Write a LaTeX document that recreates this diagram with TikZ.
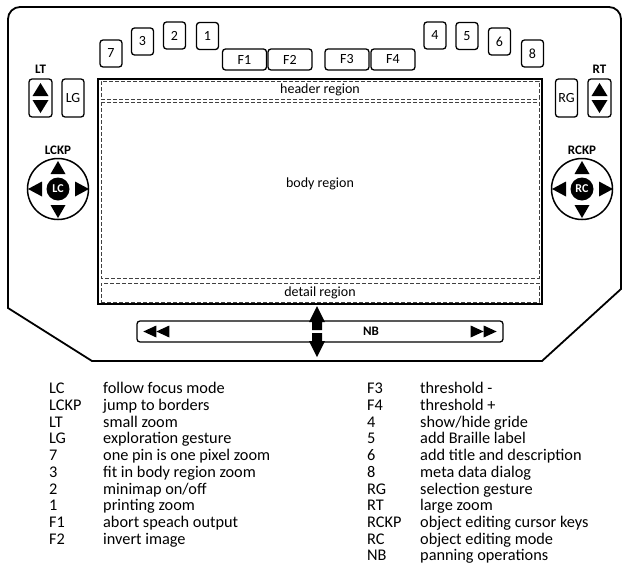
\documentclass[tikz,border=0pt]{standalone}
\usepackage{fontspec}
\setmainfont{Carlito}
\usetikzlibrary{positioning,calc}

\begin{document}
\begin{tikzpicture}[
  x=1pt,y=-1pt,
  font=\fontsize{14}{14}\selectfont,
  key/.style={rectangle,draw,line width=1.3pt,rounded corners=3pt,minimum width=22pt,minimum height=27pt,inner sep=0pt},
  fkey/.style={key,minimum width=44pt,minimum height=21pt},
  sidekey/.style={key,minimum width=23pt,minimum height=38pt},
  pad/.style={circle,draw,line width=1.5pt,minimum size=61pt,inner sep=0pt},
  padcenter/.style={circle,fill=black,text=white,minimum size=23pt,inner sep=0pt,font=\bfseries\fontsize{12}{12}\selectfont},
  region/.style={draw=black!75,dash pattern=on 4pt off 2pt,line width=0.9pt,inner sep=0pt},
  lbl/.style={font=\bfseries\fontsize{13}{13}\selectfont},
  legend/.style={anchor=north west,inner sep=0pt,font=\fontsize{16.3}{16.7}\selectfont},
]
\useasboundingbox (0,0) rectangle (625,568);

% Device outline
\draw[line width=1.8pt] (8,308) -- (8,19) arc[start angle=180,end angle=270,radius=12]
  -- (609,7) arc[start angle=270,end angle=360,radius=12]
  -- (621,289) -- (542,361) -- (92,361) -- cycle;

% Screen and regions
\draw[line width=1.8pt] (98,79) rectangle (542,304);
\node[region,minimum width=438pt,minimum height=18pt] (header) at (320,90) {header region};
\draw[region] (101,102) rectangle (539,278);
\node (body) at (320,184) {body region};
\node[region,minimum width=438pt,minimum height=19pt] (detail) at (320,292.5) {detail region};

% Top keys
\node[key] (k7) at (111,53.5) {7};
\node[key] (k3) at (142.5,41.5) {3};
\node[key] (k2) at (174.5,35.5) {2};
\node[key] (k1) at (207.5,36) {1};
\node[fkey] (f1) at (244.5,59.5) {F1};
\node[fkey] (f2) at (290,59.5) {F2};
\node[fkey] (f3) at (347,59.5) {F3};
\node[fkey] (f4) at (393,59.5) {F4};
\node[key] (k4) at (435,35.5) {4};
\node[key] (k5) at (467,36) {5};
\node[key] (k6) at (499.5,41.5) {6};
\node[key] (k8) at (532.5,53.5) {8};

% Thumb keys
\node[sidekey] (lt) at (40.5,98) {};
\node[sidekey,minimum width=22pt] (lg) at (73,98) {LG};
\node[sidekey,minimum width=22pt] (rg) at (566.5,98) {RG};
\node[sidekey] (rt) at (599.5,98) {};
\node[lbl,above=1.5pt of lt] (ltlbl) {LT};
\node[lbl,above=1.5pt of rt] (rtlbl) {RT};
\fill ($(lt)+(0,-15)$) -- ++(8,13) -- ++(-16,0) -- cycle;
\fill ($(lt)+(0,15)$) -- ++(8,-13) -- ++(-16,0) -- cycle;
\fill ($(rt)+(0,-15)$) -- ++(8,13) -- ++(-16,0) -- cycle;
\fill ($(rt)+(0,15)$) -- ++(8,-13) -- ++(-16,0) -- cycle;

% Cursor pads
\node[pad] (lckp) at (58,189) {};
\node[padcenter] (lc) at (lckp) {LC};
\node[lbl,above=0pt of lckp] (lckplbl) {LCKP};
\fill ($(lckp)+(0,-28)$) -- ++(7.5,13) -- ++(-15,0) -- cycle;
\fill ($(lckp)+(0,29)$) -- ++(7.5,-13) -- ++(-15,0) -- cycle;
\fill ($(lckp)+(-30,0)$) -- ++(14,7.5) -- ++(0,-15) -- cycle;
\fill ($(lckp)+(31,0)$) -- ++(-14,7.5) -- ++(0,-15) -- cycle;

\node[pad] (rckp) at (582,189) {};
\node[padcenter] (rc) at (rckp) {RC};
\node[lbl,above=0pt of rckp] (rckplbl) {RCKP};
\fill ($(rckp)+(0,-28)$) -- ++(7.5,13) -- ++(-15,0) -- cycle;
\fill ($(rckp)+(0,29)$) -- ++(7.5,-13) -- ++(-15,0) -- cycle;
\fill ($(rckp)+(-30,0)$) -- ++(14,7.5) -- ++(0,-15) -- cycle;
\fill ($(rckp)+(31,0)$) -- ++(-14,7.5) -- ++(0,-15) -- cycle;

% Navigation bar
\node[key,minimum width=366pt,minimum height=21pt] (nb) at (320,331.5) {};
\node[lbl] (nblbl) at (371,331.5) {NB};
\fill ($(nb.west)+(7,0)$) -- ++(13,-6) -- ++(0,12) -- cycle;
\fill ($(nb.west)+(20,0)$) -- ++(13,-6) -- ++(0,12) -- cycle;
\fill ($(nb.east)+(-7,0)$) -- ++(-13,-6) -- ++(0,12) -- cycle;
\fill ($(nb.east)+(-20,0)$) -- ++(-13,-6) -- ++(0,12) -- cycle;
\coordinate (pan) at (317,331.5);
\fill ($(pan)+(0,-25.5)$) -- ++(8,16) -- ++(-3,0) -- ++(0,8) -- ++(-10,0) -- ++(0,-8) -- ++(-3,0) -- cycle;
\fill ($(pan)+(0,25.5)$) -- ++(8,-16) -- ++(-3,0) -- ++(0,-8) -- ++(-10,0) -- ++(0,8) -- ++(-3,0) -- cycle;

% Legend
\node[legend] (legleft) at (49,382) {\begin{tabular}{@{}p{54pt}@{}l@{}}
LC & follow focus mode\\
LCKP & jump to borders\\
LT & small zoom\\
LG & exploration gesture\\
7 & one pin is one pixel zoom\\
3 & fit in body region zoom\\
2 & minimap on/off\\
1 & printing zoom\\
F1 & abort speach output\\
F2 & invert image
\end{tabular}};
\node[legend] (legright) at (367,382) {\begin{tabular}{@{}p{53pt}@{}l@{}}
F3 & threshold -\\
F4 & threshold +\\
4 & show/hide gride\\
5 & add Braille label\\
6 & add title and description\\
8 & meta data dialog\\
RG & selection gesture\\
RT & large zoom\\
RCKP & object editing cursor keys\\
RC & object editing mode\\
NB & panning operations
\end{tabular}};

\end{tikzpicture}
\end{document}
